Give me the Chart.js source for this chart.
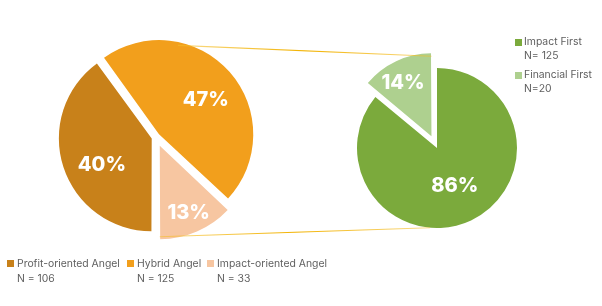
<!DOCTYPE html>
<html><head><meta charset="utf-8">
<script src="https://cdn.jsdelivr.net/npm/chart.js@4.4.0/dist/chart.umd.min.js"></script>
<style>
html,body{margin:0;padding:0;background:#fff;width:602px;height:306px;overflow:hidden;position:relative;font-family:Inter,"Open Sans",sans-serif}
.cv{position:absolute}
.lg{position:absolute;font-size:10.4px;color:#5f5f5f;line-height:15px;white-space:nowrap}
.lg .sw{position:absolute;width:7px;height:7px;}
</style></head>
<body>
<div class="cv" id="wl" style="left:0;top:0;width:312px;height:274px"><canvas id="cl"></canvas></div>
<div class="cv" id="wr" style="left:337px;top:48px;width:200px;height:200px"><canvas id="cr"></canvas></div>
<canvas id="ov" class="cv" width="602" height="306" style="left:0;top:0;pointer-events:none"></canvas>
<div id="legL"></div><div id="legR"></div>
<script>
// ---- data ----
const leftLabels = ['Profit-oriented Angel', 'Hybrid Angel', 'Impact-oriented Angel'];
const leftPct = [40, 47, 13];
const leftN = [106, 125, 33];
const rightLabels = ['Impact First', 'Financial First'];
const rightPct = [86, 14];
const rightN = [125, 20];

// ---- style ----
const leftColors = ['#C8811A', '#F29F1C', '#F7C6A1'];
const rightColors = ['#7BAA3C', '#AED08F'];
const leftOffsets = [18, 16, 38];
const rightOffsets = [0, 52];
const leftLabelPos = [[0.62, -10], [0.64, 5], [0.8, 0]];
const rightLabelPos = [[0.52, 0], [0.75, -3]];

const pctPlugin = {
  id: 'pct',
  afterDatasetsDraw(chart, args, opts) {
    const ctx = chart.ctx;
    const meta = chart.getDatasetMeta(0);
    const vals = chart.data.datasets[0].data;
    meta.data.forEach((arc, i) => {
      const p = arc.getProps(['x', 'y', 'startAngle', 'endAngle', 'outerRadius'], true);
      const mid = (p.startAngle + p.endAngle) / 2;
      const t = (arc.options.offset || 0) / 4;
      const [f, sh] = opts.pos[i];
      const a = mid + sh * Math.PI / 180;
      const x = p.x + Math.cos(mid) * t + Math.cos(a) * p.outerRadius * f;
      const y = p.y + Math.sin(mid) * t + Math.sin(a) * p.outerRadius * f;
      ctx.save();
      ctx.font = '800 20px Inter';
      ctx.fillStyle = '#fff';
      ctx.textAlign = 'center';
      ctx.textBaseline = 'middle';
      ctx.fillText(vals[i] + '%', x, y);
      ctx.restore();
    });
  }
};

function makePie(id, labels, data, colors, offsets, rotation, radius, pos) {
  return new Chart(document.getElementById(id), {
    type: 'pie',
    data: { labels, datasets: [{ data, backgroundColor: colors, borderWidth: 0, offset: offsets, radius }] },
    options: {
      responsive: true, maintainAspectRatio: false, animation: false,
      rotation, layout: { padding: 0 },
      plugins: { legend: { display: false }, tooltip: { enabled: false }, pct: { pos } },
      events: []
    },
    plugins: [pctPlugin]
  });
}

const cl = makePie('cl', leftLabels, leftPct, leftColors, leftOffsets, 180, 91, leftLabelPos);
const cr = makePie('cr', rightLabels, rightPct, rightColors, rightOffsets, 0, 80, rightLabelPos);

// connector lines
function arcPoint(chart, wrapId, idx, angleDeg) {
  const arc = chart.getDatasetMeta(0).data[idx];
  const w = document.getElementById(wrapId);
  const ox = w.offsetLeft, oy = w.offsetTop;
  const mid = (arc.startAngle + arc.endAngle) / 2;
  const t = (arc.options.offset || 0) / 4;
  const a = (angleDeg - 90) * Math.PI / 180;
  return [ox + arc.x + Math.cos(mid) * t + Math.cos(a) * arc.outerRadius,
          oy + arc.y + Math.sin(mid) * t + Math.sin(a) * arc.outerRadius];
}
const ov = document.getElementById('ov').getContext('2d');
function line(p1, p2) {
  const g = ov.createLinearGradient(p1[0], p1[1], p2[0], p2[1]);
  g.addColorStop(0, 'rgba(245,190,40,0.55)');
  g.addColorStop(0.5, 'rgba(242,178,0,1)');
  g.addColorStop(1, 'rgba(245,190,40,0.55)');
  ov.strokeStyle = g; ov.lineWidth = 1.1;
  ov.beginPath(); ov.moveTo(p1[0], p1[1]); ov.lineTo(p2[0], p2[1]); ov.stroke();
}
line(arcPoint(cl, 'wl', 1, 12), arcPoint(cr, 'wr', 1, 0));
line(arcPoint(cl, 'wl', 2, 180), arcPoint(cr, 'wr', 0, 185));

// legends
const legL = document.getElementById('legL');
const lx = [7, 127, 207];
leftLabels.forEach((l, i) => {
  const d = document.createElement('div');
  d.className = 'lg';
  d.style.left = (lx[i] + 10) + 'px'; d.style.top = '256px';
  d.innerHTML = '<span class="sw" style="left:-10px;top:4px;background:' + leftColors[i] + '"></span>' + l + '<br>N = ' + leftN[i];
  legL.appendChild(d);
});
const legR = document.getElementById('legR');
const nPre = ['N= ', 'N='];
rightLabels.forEach((l, i) => {
  const d = document.createElement('div');
  d.className = 'lg';
  d.style.left = '524px'; d.style.top = (35 + i * 33) + 'px';
  d.style.lineHeight = '14px';
  d.innerHTML = '<span class="sw" style="left:-9px;top:4px;background:' + rightColors[i] + '"></span>' + l + '<br>' + nPre[i] + rightN[i];
  legR.appendChild(d);
});
</script>
</body></html>
